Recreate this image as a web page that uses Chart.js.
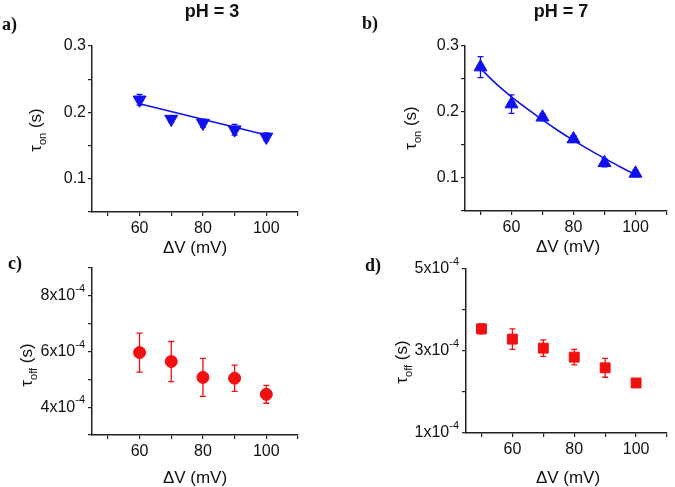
<!DOCTYPE html>
<html>
<head>
<meta charset="utf-8">
<script src="https://cdn.jsdelivr.net/npm/chart.js@4.4.0/dist/chart.umd.min.js"></script>
<style>
  body { margin: 0; background: #fff; width: 675px; height: 487px; position: relative; overflow: hidden;
         font-family: 'Liberation Sans', Arial, sans-serif; color: #111; }
  canvas { position: absolute; }
  .lbl { position: absolute; font-family: 'Liberation Serif', 'Times New Roman', serif; font-weight: bold;
         font-size: 18px; transform: translateY(-50%); }
  .ttl { position: absolute; font-weight: bold; font-size: 18px; transform: translate(-50%, -50%); white-space: nowrap; }
  .xt { position: absolute; font-size: 17px; transform: translate(-50%, -50%); white-space: nowrap; }
  .yt { position: absolute; font-size: 17px; transform: translate(-50%, -50%) rotate(-90deg); white-space: nowrap; }
  .yt sub { font-size: 11px; }
</style>
</head>
<body>
<canvas id="chartA" width="337" height="240" style="left:0;top:0"></canvas>
<canvas id="chartB" width="337" height="240" style="left:338px;top:0"></canvas>
<canvas id="chartC" width="337" height="247" style="left:0;top:240px"></canvas>
<canvas id="chartD" width="337" height="247" style="left:338px;top:240px"></canvas>

<div class="lbl" style="left:2px;top:24px">a)</div>
<div class="lbl" style="left:362px;top:23px">b)</div>
<div class="lbl" style="left:8px;top:263px">c)</div>
<div class="lbl" style="left:365px;top:265px">d)</div>
<div class="ttl" style="left:212px;top:11px">pH = 3</div>
<div class="ttl" style="left:561px;top:11px">pH = 7</div>
<div class="xt" style="left:195px;top:248px">ΔV (mV)</div>
<div class="xt" style="left:568px;top:247px">ΔV (mV)</div>
<div class="xt" style="left:195px;top:478px">ΔV (mV)</div>
<div class="xt" style="left:568px;top:478px">ΔV (mV)</div>
<div class="yt" style="left:37px;top:130px">τ<sub>on</sub> (s)</div>
<div class="yt" style="left:412px;top:128px">τ<sub>on</sub> (s)</div>
<div class="yt" style="left:28px;top:365px">τ<sub>off</sub> (s)</div>
<div class="yt" style="left:403px;top:362px">τ<sub>off</sub> (s)</div>

<script>
// panel a: pH 3, tau_on
const voltsA = [60, 70, 80, 90, 100];
const tauOnA = [0.219, 0.190, 0.184, 0.174, 0.163];
const tauOnAErr = [0.008, 0.005, 0.006, 0.008, 0.006];
const fitAX = [60, 100];
const fitAY = [0.213, 0.166];

// panel b: pH 7, tau_on
const voltsB = [50, 60, 70, 80, 90, 100];
const tauOnB = [0.268, 0.212, 0.192, 0.159, 0.123, 0.107];
const tauOnBErr = [0.016, 0.014, 0.005, 0.005, 0.006, 0.005];
const fitBX = [50, 55, 60, 65, 70, 75, 80, 85, 90, 95, 100];
const fitBY = [0.266, 0.243, 0.223, 0.205, 0.188, 0.172, 0.157, 0.143, 0.130, 0.117, 0.105];

// panel c: pH 3, tau_off
const voltsC = [60, 70, 80, 90, 100];
const tauOffC = [5.96e-4, 5.64e-4, 5.07e-4, 5.04e-4, 4.46e-4];
const tauOffCErr = [0.70e-4, 0.72e-4, 0.68e-4, 0.47e-4, 0.32e-4];

// panel d: pH 7, tau_off
const voltsD = [50, 60, 70, 80, 90, 100];
const tauOffD = [3.54e-4, 3.29e-4, 3.07e-4, 2.85e-4, 2.59e-4, 2.22e-4];
const tauOffDErr = [0.12e-4, 0.25e-4, 0.20e-4, 0.19e-4, 0.23e-4, 0.03e-4];

// axis ticks
const xTicks = [50, 60, 70, 80, 90, 100, 110];
const xLabels = [60, 80, 100];
const yTicksOn = [0.05, 0.1, 0.15, 0.2, 0.25, 0.3];
const yLabelsOn = [0.1, 0.2, 0.3];
const yTicksC = [3e-4, 4e-4, 5e-4, 6e-4, 7e-4, 8e-4, 9e-4];
const yLabelsC = [4e-4, 6e-4, 8e-4];
const yTicksD = [1e-4, 2e-4, 3e-4, 4e-4, 5e-4];
const yLabelsD = [1e-4, 3e-4, 5e-4];

const BLUE = '#1010f0';
const RED = '#f01010';
const AXIS = '#222';

const near = (a, b) => Math.abs(a - b) < Math.abs(b) * 1e-6 + 1e-12;

// vertical error bars with caps, drawn under the markers
const errorBars = {
    id: 'errorBars',
    beforeDatasetsDraw(chart, args, opts) {
        if (!opts.err) return;
        const ctx = chart.ctx, xs = chart.scales.x, ys = chart.scales.y;
        const ds = chart.data.datasets[0].data;
        ctx.save();
        ctx.strokeStyle = opts.color;
        ctx.lineWidth = 1.3;
        ds.forEach((p, i) => {
            const px = xs.getPixelForValue(p.x);
            const top = ys.getPixelForValue(p.y + opts.err[i]);
            const bot = ys.getPixelForValue(p.y - opts.err[i]);
            ctx.beginPath();
            ctx.moveTo(px, top); ctx.lineTo(px, bot);
            ctx.moveTo(px - 3, top); ctx.lineTo(px + 3, top);
            ctx.moveTo(px - 3, bot); ctx.lineTo(px + 3, bot);
            ctx.stroke();
        });
        ctx.restore();
    }
};

// "8x10^-4" style tick labels with a raised exponent
const sciLabels = {
    id: 'sciLabels',
    afterDraw(chart, args, opts) {
        if (!opts.values) return;
        const ctx = chart.ctx, ys = chart.scales.y;
        const right = ys.right - 7;
        ctx.save();
        ctx.fillStyle = '#111';
        ctx.textBaseline = 'middle';
        ctx.textAlign = 'right';
        opts.values.forEach(v => {
            const py = ys.getPixelForValue(v);
            ctx.font = "11px 'Liberation Sans'";
            const sup = '-4';
            const sw = ctx.measureText(sup).width;
            ctx.fillText(sup, right, py - 7);
            ctx.font = "16px 'Liberation Sans'";
            ctx.fillText(Math.round(v * 1e4) + 'x10', right - sw, py);
        });
        ctx.restore();
    }
};

function makePanel(id, p) {
    const datasets = [{
        data: p.xs.map((x, i) => ({ x: x, y: p.ys[i] })),
        pointStyle: p.style,
        rotation: p.rotation || 0,
        pointRadius: p.radius,
        pointHoverRadius: p.radius,
        backgroundColor: p.color,
        borderColor: p.color,
        borderWidth: 1,
        showLine: false
    }];
    if (p.fitX) {
        datasets.push({
            data: p.fitX.map((x, i) => ({ x: x, y: p.fitY[i] })),
            showLine: true,
            pointRadius: 0,
            borderColor: p.color,
            borderWidth: 1.6,
            cubicInterpolationMode: 'monotone',
            fill: false
        });
    }
    return new Chart(document.getElementById(id), {
        type: 'scatter',
        data: { datasets: datasets },
        plugins: [errorBars, sciLabels],
        options: {
            responsive: false,
            animation: false,
            layout: { padding: { top: p.top, right: p.right, left: 0, bottom: 0 } },
            plugins: {
                legend: { display: false },
                tooltip: { enabled: false },
                errorBars: { err: p.err, color: p.color },
                sciLabels: { values: p.sci }
            },
            scales: {
                x: {
                    type: 'linear', min: 45, max: 110,
                    afterBuildTicks: s => { s.ticks = xTicks.map(v => ({ value: v })); },
                    afterFit: s => { s.height = p.xh; },
                    grid: { drawOnChartArea: false, drawTicks: true, tickLength: 4, color: AXIS, lineWidth: 1.2 },
                    border: { display: true, color: AXIS, width: 1.5 },
                    ticks: {
                        padding: 3, color: '#111', font: { family: "'Liberation Sans'", size: 16 },
                        maxRotation: 0, autoSkip: false,
                        callback: v => xLabels.includes(v) ? String(v) : ''
                    }
                },
                y: {
                    type: 'linear', min: p.ymin, max: p.ymax,
                    afterBuildTicks: s => { s.ticks = p.yTicks.map(v => ({ value: v })); },
                    afterFit: s => { s.width = p.yw; },
                    grid: { drawOnChartArea: false, drawTicks: true, tickLength: 4, color: AXIS, lineWidth: 1.2 },
                    border: { display: true, color: AXIS, width: 1.5 },
                    ticks: {
                        padding: 2, color: '#111', font: { family: "'Liberation Sans'", size: 16 },
                        autoSkip: false,
                        callback: v => (!p.sci && p.yLabels.some(l => near(v, l))) ? v.toFixed(1) : ''
                    }
                }
            }
        }
    });
}

makePanel('chartA', {
    xs: voltsA, ys: tauOnA, err: tauOnAErr, fitX: fitAX, fitY: fitAY,
    style: 'triangle', rotation: 180, radius: 7.5, color: BLUE,
    ymin: 0.05, ymax: 0.3, yTicks: yTicksOn, yLabels: yLabelsOn,
    top: 46, right: 39, yw: 92, xh: 28
});
makePanel('chartB', {
    xs: voltsB, ys: tauOnB, err: tauOnBErr, fitX: fitBX, fitY: fitBY,
    style: 'triangle', radius: 7.5, color: BLUE,
    ymin: 0.05, ymax: 0.3, yTicks: yTicksOn, yLabels: yLabelsOn,
    top: 46, right: 5, yw: 127, xh: 29
});
makePanel('chartC', {
    xs: voltsC, ys: tauOffC, err: tauOffCErr,
    style: 'circle', radius: 6, color: RED,
    ymin: 3e-4, ymax: 9e-4, yTicks: yTicksC, yLabels: yLabelsC, sci: yLabelsC,
    top: 28, right: 39, yw: 92, xh: 52
});
makePanel('chartD', {
    xs: voltsD, ys: tauOffD, err: tauOffDErr,
    style: 'rect', radius: 7, color: RED,
    ymin: 1e-4, ymax: 5e-4, yTicks: yTicksD, yLabels: yLabelsD, sci: yLabelsD,
    top: 29, right: 5, yw: 128, xh: 54
});
</script>
</body>
</html>
